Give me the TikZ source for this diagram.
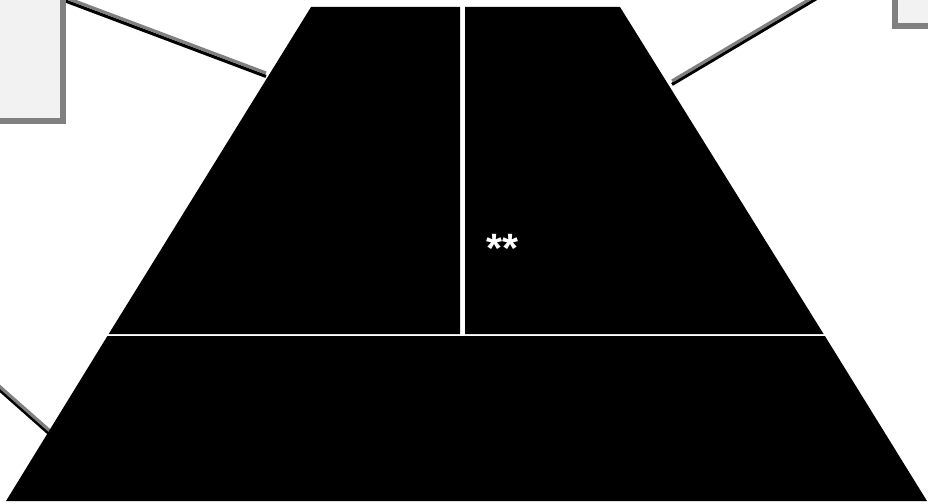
\documentclass[tikz,border=0pt]{standalone}
\usepackage{fontspec}
\setmainfont{Liberation Sans}
\definecolor{boxfill}{HTML}{F2F2F2}
\definecolor{edgegray}{HTML}{808080}
\tikzset{
  shadowline/.style={line width=3.2pt, black},
  greyline/.style={line width=3.2pt, edgegray},
  boxstyle/.style={fill=boxfill, draw=edgegray, line width=6pt},
  piece/.style={fill=black, draw=none},
}
\begin{document}
\begin{tikzpicture}[x=1pt,y=-1pt]
\useasboundingbox (0,0) rectangle (928,503);
\clip (0,0) rectangle (928,503);
% connector end points
\coordinate (l1a) at (40,-12);  \coordinate (l1b) at (266,73);
\coordinate (l2a) at (842,-20); \coordinate (l2b) at (672,81);
\coordinate (l3a) at (-10,378); \coordinate (l3b) at (50,431);
% connectors: black shadow then grey line
\foreach \a/\b in {l1a/l1b, l2a/l2b, l3a/l3b}{
  \draw[shadowline] ([yshift=-3.4pt]\a) -- ([yshift=-3.4pt]\b);
  \draw[greyline] (\a) -- (\b);
}
% boxes
\draw[boxstyle] (-20,-20) rectangle (63,121);
\draw[boxstyle] (895,-20) rectangle (960,26);
% trapezoid pieces
\fill[piece] (311,7) -- (460,7) -- (460,334) -- (108.7,334) -- cycle;
\fill[piece] (465,7) -- (620,7) -- (823.6,334) -- (465,334) -- cycle;
\fill[piece] (107.4,336) -- (824.9,336) -- (927,501) -- (6,501) -- cycle;
\node[text=white, font=\bfseries\fontsize{41}{41}\selectfont, anchor=base, inner sep=0pt] (stars) at (502.5,262) {**};
\end{tikzpicture}
\end{document}
